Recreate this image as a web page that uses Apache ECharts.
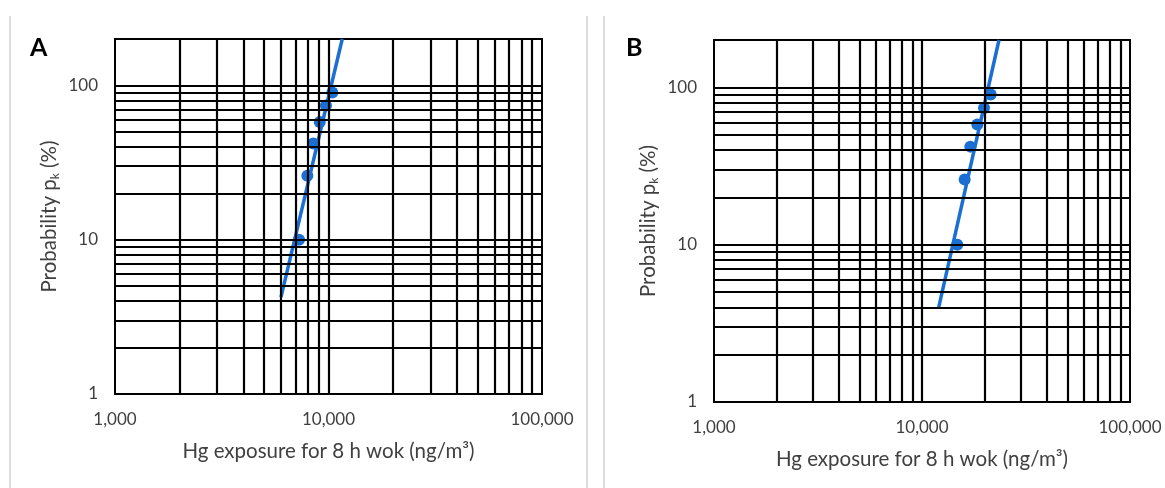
<!DOCTYPE html>
<html>
<head>
<meta charset="utf-8">
<script src="https://cdn.jsdelivr.net/npm/echarts@6/dist/echarts.min.js"></script>
<style>
  html, body { margin: 0; padding: 0; background: #fff; }
  #chart { width: 1165px; height: 488px; }
</style>
</head>
<body>
<div id="chart"></div>
<script>
// Cumulative probability (%) of each ranked exposure
const probability = [10, 26, 42, 58, 74, 90];
// Hg exposure for an 8 h workday (ng/m3), panel A and panel B
const exposureA = [7280, 7960, 8490, 9100, 9730, 10420];
const exposureB = [14780, 16040, 17070, 18450, 19870, 21390];
// Fitted power-law trend lines: [exposure, probability] end points
const trendA = [[5990, 4.25], [11600, 200]];
const trendB = [[12030, 4.0], [23450, 200]];
// Log-paper grid lines
const xGridValues = [2000, 3000, 4000, 5000, 6000, 7000, 8000, 9000, 10000,
  20000, 30000, 40000, 50000, 60000, 70000, 80000, 90000];
const yGridValues = [2, 3, 4, 5, 6, 7, 8, 9, 10,
  20, 30, 40, 50, 60, 70, 80, 90, 100];
const xTickLabels = { 1000: '1,000', 10000: '10,000', 100000: '100,000' };
const yTickLabels = { 1: '1', 10: '10', 100: '100' };

const BLUE = '#1b6fd2';
const TEXT = '#404040';
const FONT = 'Lato, "Open Sans", sans-serif';

const chart = echarts.init(document.getElementById('chart'), null, { renderer: 'canvas' });

function xAxisFor(gridIndex) {
  return {
    type: 'log', logBase: 10, gridIndex, min: 1000, max: 100000,
    name: 'Hg exposure for 8 h wok (ng/m³)',
    nameLocation: 'middle', nameGap: 47,
    nameTextStyle: { fontSize: 20.5, color: TEXT, fontFamily: FONT },
    axisLine: { show: false }, axisTick: { show: false },
    splitLine: { show: false },
    axisLabel: {
      margin: 17, fontSize: 17, color: TEXT, fontFamily: FONT,
      formatter: v => xTickLabels[Math.round(v)] || ''
    }
  };
}
function yAxisFor(gridIndex) {
  return {
    type: 'log', logBase: 10, gridIndex, min: 1, max: 200,
    name: '{t|Probability p}{s|k}{t| (%)}',
    nameLocation: 'middle', nameGap: 54,
    nameTextStyle: {
      color: TEXT, fontFamily: FONT,
      rich: {
        t: { fontSize: 20.5, color: TEXT, fontFamily: FONT, lineHeight: 24 },
        s: { fontSize: 12, color: TEXT, fontFamily: FONT, verticalAlign: 'bottom', lineHeight: 24 }
      }
    },
    axisLine: { show: false }, axisTick: { show: false },
    splitLine: { show: false },
    axisLabel: {
      margin: 17, fontSize: 17, color: TEXT, fontFamily: FONT,
      formatter: v => yTickLabels[Math.round(v)] || ''
    }
  };
}
function gridSeries(idx) {
  return {
    type: 'line', xAxisIndex: idx, yAxisIndex: idx, data: [], z: 1,
    silent: true, animation: false,
    markLine: {
      silent: true, animation: false, symbol: ['none', 'none'],
      label: { show: false },
      lineStyle: { color: '#000', width: 2.2, type: 'solid' },
      emphasis: { disabled: true },
      data: xGridValues.map(v => ({ xAxis: v })).concat(yGridValues.map(v => ({ yAxis: v })))
    }
  };
}
function trendSeries(idx, data) {
  return {
    type: 'line', xAxisIndex: idx, yAxisIndex: idx, data, z: 3,
    showSymbol: false, symbol: 'none', silent: true, animation: false,
    lineStyle: { color: BLUE, width: 3.5 }
  };
}
function pointSeries(idx, xs) {
  return {
    type: 'scatter', xAxisIndex: idx, yAxisIndex: idx, z: 4,
    data: xs.map((x, i) => [x, probability[i]]),
    symbol: 'circle', symbolSize: 12, animation: false,
    itemStyle: { color: BLUE, opacity: 1 }
  };
}

const borderLine = x => ({
  type: 'line', silent: true,
  shape: { x1: x, y1: 16, x2: x, y2: 488 },
  style: { stroke: '#dcdcdc', lineWidth: 2 }
});

chart.setOption({
  animation: false,
  backgroundColor: '#fff',
  title: [
    { text: 'A', left: 25, top: 30, textStyle: { fontSize: 25, fontWeight: 'bold', color: '#000', fontFamily: FONT } },
    { text: 'B', left: 621, top: 30, textStyle: { fontSize: 25, fontWeight: 'bold', color: '#000', fontFamily: FONT } }
  ],
  grid: [
    { left: 115, top: 39, width: 427, height: 355, show: true, borderColor: '#000', borderWidth: 2, backgroundColor: 'transparent' },
    { left: 714, top: 40, width: 416, height: 362, show: true, borderColor: '#000', borderWidth: 2, backgroundColor: 'transparent' }
  ],
  xAxis: [xAxisFor(0), xAxisFor(1)],
  yAxis: [yAxisFor(0), yAxisFor(1)],
  graphic: [borderLine(10), borderLine(587), borderLine(604)],
  series: [
    gridSeries(0), gridSeries(1),
    trendSeries(0, trendA), trendSeries(1, trendB),
    pointSeries(0, exposureA), pointSeries(1, exposureB)
  ]
});
</script>
</body>
</html>
